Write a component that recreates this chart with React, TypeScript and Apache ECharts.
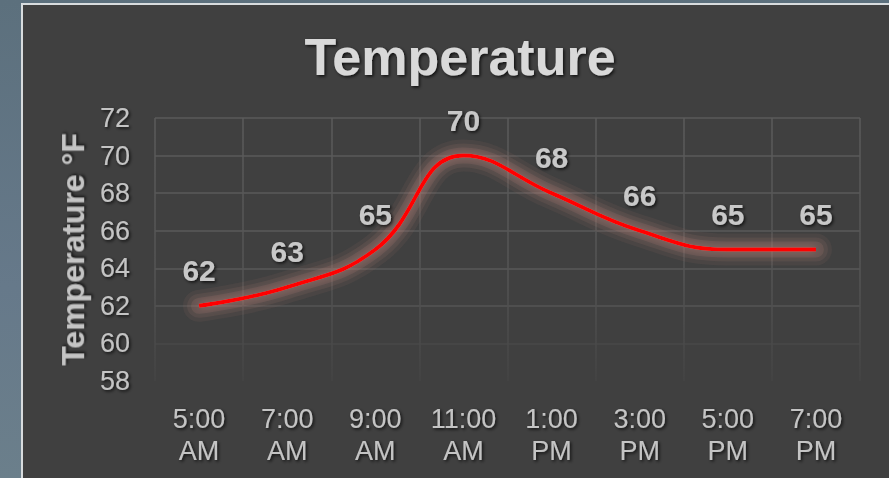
import React, { useEffect, useRef } from "react";
import * as echarts from "echarts";

const categories = ["5:00\nAM", "7:00\nAM", "9:00\nAM", "11:00\nAM", "1:00\nPM", "3:00\nPM", "5:00\nPM", "7:00\nPM"];
const temperatures = [62, 63, 65, 70, 68, 66, 65, 65];
const titleText = "Temperature";
const yAxisName = "Temperature °F";
const yMin = 58;
const yMax = 72;
const yStep = 2;

const FONT = "'Liberation Sans', Arial, sans-serif";
const shadow = {
  textShadowColor: "rgba(0,0,0,0.75)",
  textShadowBlur: 3,
  textShadowOffsetX: 1.5,
  textShadowOffsetY: 1.5,
};

const haloLayers = [
  { width: 32, alpha: 0.1 },
  { width: 24, alpha: 0.14 },
  { width: 16, alpha: 0.2 },
];

export default function App() {
  const ref = useRef<HTMLDivElement>(null);

  useEffect(() => {
    document.body.style.margin = "0";
    if (!ref.current) return;
    const chart = echarts.init(ref.current, undefined, { renderer: "svg" });
    const vGrad = new echarts.graphic.LinearGradient(
      0, 118, 0, 381,
      [
        { offset: 0, color: "#5b5b5b" },
        { offset: 0.6, color: "#545454" },
        { offset: 1, color: "#444444" },
      ],
      true
    );
    const halos = haloLayers.map((h) => ({
      type: "line",
      data: temperatures,
      smooth: 0.45,
      symbol: "none",
      silent: true,
      z: 1,
      lineStyle: { color: `rgba(165,118,112,${h.alpha})`, width: h.width, cap: "round" },
    }));
    chart.setOption({
      animation: false,
      backgroundColor: "transparent",
      title: {
        text: titleText,
        left: 455,
        textAlign: "center",
        top: 26,
        textStyle: {
          fontFamily: FONT,
          fontSize: 52,
          fontWeight: "bold",
          color: "#d9d9d9",
          ...shadow,
        },
      },
      grid: { left: 155, right: 29, top: 118, bottom: 97, containLabel: false },
      xAxis: {
        type: "category",
        data: categories,
        boundaryGap: true,
        axisLine: { show: false },
        axisTick: { show: false },
        axisLabel: {
          fontFamily: FONT,
          fontSize: 27,
          lineHeight: 32,
          color: "#c4c4c4",
          margin: 22,
          interval: 0,
          ...shadow,
        },
        splitLine: { show: true, lineStyle: { color: vGrad, width: 1.5 } },
      },
      yAxis: {
        type: "value",
        min: yMin,
        max: yMax,
        interval: yStep,
        name: yAxisName,
        nameLocation: "middle",
        nameGap: 59,
        nameTextStyle: {
          fontFamily: FONT,
          fontSize: 32,
          fontWeight: "bold",
          color: "#c4c4c4",
          ...shadow,
        },
        axisLine: { show: false },
        axisTick: { show: false },
        axisLabel: {
          fontFamily: FONT,
          fontSize: 27,
          color: "#c4c4c4",
          margin: 25,
          ...shadow,
        },
        splitLine: {
          show: true,
          lineStyle: {
            color: ["rgba(70,70,70,0.3)", "#484848", "#555555", "#595959", "#5a5a5a", "#5a5a5a", "#5a5a5a", "#5a5a5a"],
            width: 1.5,
          },
        },
      },
      series: [
        ...halos,
        {
          type: "line",
          data: temperatures,
          smooth: 0.45,
          symbol: "circle",
          symbolSize: 1,
          showSymbol: true,
          z: 3,
          itemStyle: { color: "rgba(0,0,0,0)" },
          lineStyle: {
            color: "#ff0000",
            width: 4,
            shadowColor: "rgba(230,160,150,0.5)",
            shadowBlur: 8,
          },
          label: {
            show: true,
            position: "top",
            distance: 20,
            fontFamily: FONT,
            fontSize: 30,
            fontWeight: "bold",
            color: "#c8c8c8",
            ...shadow,
          },
        },
      ],
    });
    return () => chart.dispose();
  }, []);

  return (
    <div
      style={{
        position: "fixed",
        left: 0,
        top: 0,
        width: 889,
        height: 478,
        background: "linear-gradient(180deg, #5c707d 0%, #66798a 60%, #6b7f8b 100%)",
        overflow: "hidden",
      }}
    >
      <div
        style={{
          position: "absolute",
          left: 21,
          top: 3,
          width: 868,
          height: 475,
          background: "#404040",
          borderLeft: "2px solid #d8dcde",
          borderTop: "2px solid #d8dcde",
          boxSizing: "border-box",
        }}
      />
      <div ref={ref} style={{ position: "absolute", left: 0, top: 0, width: 889, height: 478 }} />
    </div>
  );
}
